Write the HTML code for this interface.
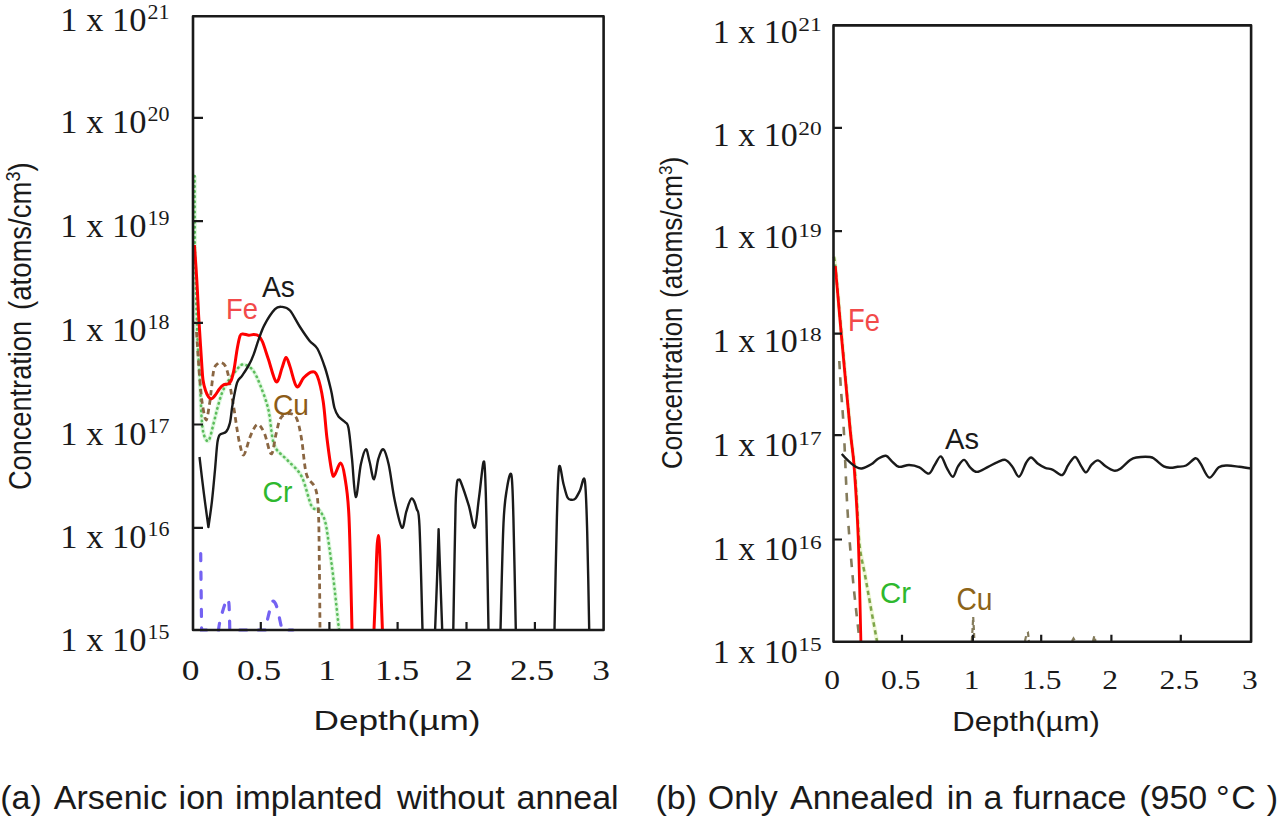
<!DOCTYPE html><html><head><meta charset="utf-8"><style>html,body{margin:0;padding:0;background:#fff;}svg{display:block;}</style></head><body>
<svg width="1280" height="817" viewBox="0 0 1280 817">
<rect width="1280" height="817" fill="#fff"/>
<path d="M200.7 553.5 L201.6 630.0 L218.5 630.0 C218.7 628.8 219.0 625.9 219.6 623.0 C220.2 620.1 221.4 615.8 222.3 612.5 C223.2 609.2 224.4 605.3 225.3 603.0 C226.2 600.7 227.2 598.7 227.8 598.8 C228.4 598.9 228.6 601.0 228.9 603.5 C229.2 606.0 229.2 609.6 229.4 614.0 C229.6 618.4 229.7 627.3 229.8 630.0 L265.5 630.0 C265.7 628.8 266.2 625.4 266.8 622.5 C267.4 619.6 268.4 615.7 269.2 612.5 C270.0 609.3 270.9 605.4 271.6 603.5 C272.3 601.6 272.8 600.8 273.6 601.2 C274.4 601.6 275.6 603.4 276.5 606.0 C277.4 608.6 278.4 613.5 279.2 617.0 C280.0 620.5 280.8 624.8 281.4 627.0 C282.0 629.2 282.7 629.5 283.0 630.0 L293.0 630.0" fill="none" stroke="#7462f2" stroke-width="3.2" stroke-linecap="round" stroke-dasharray="7.2 11.4" />
<path d="M194.6 176.0 L194.8 245.0 C195.0 254.2 195.7 283.8 196.2 300.0 C196.7 316.2 197.0 328.9 197.6 342.0 C198.2 355.1 199.1 365.3 199.8 378.8 C200.5 392.3 201.1 413.2 202.0 423.0 C202.9 432.8 203.8 434.8 205.0 437.6 C206.2 440.4 207.6 442.4 209.0 440.0 C210.4 437.6 212.3 428.3 213.7 423.0 C215.1 417.7 216.1 413.1 217.4 408.2 C218.8 403.3 220.1 397.9 221.8 393.5 C223.5 389.1 225.2 385.7 227.7 381.8 C230.1 377.9 234.0 372.9 236.5 370.0 C239.0 367.1 240.2 364.5 242.9 364.5 C245.6 364.5 249.8 366.4 252.7 370.0 C255.6 373.6 257.9 379.2 260.5 385.8 C263.1 392.4 266.3 400.8 268.3 409.3 C270.3 417.8 271.0 430.4 272.3 437.0 C273.6 443.6 273.6 445.1 276.2 449.0 C278.8 452.9 283.7 456.1 287.9 460.7 C292.1 465.3 297.7 468.9 301.6 476.4 C305.5 483.9 308.7 500.4 311.4 505.8 C314.1 511.2 316.2 507.6 318.0 509.0 C319.8 510.4 320.8 511.7 322.0 514.0 C323.2 516.3 324.3 517.8 325.5 523.0 C326.7 528.2 327.8 536.3 329.0 545.0 C330.2 553.7 331.3 560.9 333.0 575.0 C334.7 589.1 338.0 620.7 339.0 629.8" fill="none" stroke="#dcf7dc" stroke-width="4.2" />
<path d="M194.6 176.0 L194.8 245.0 C195.0 254.2 195.7 283.8 196.2 300.0 C196.7 316.2 197.0 328.9 197.6 342.0 C198.2 355.1 199.1 365.3 199.8 378.8 C200.5 392.3 201.1 413.2 202.0 423.0 C202.9 432.8 203.8 434.8 205.0 437.6 C206.2 440.4 207.6 442.4 209.0 440.0 C210.4 437.6 212.3 428.3 213.7 423.0 C215.1 417.7 216.1 413.1 217.4 408.2 C218.8 403.3 220.1 397.9 221.8 393.5 C223.5 389.1 225.2 385.7 227.7 381.8 C230.1 377.9 234.0 372.9 236.5 370.0 C239.0 367.1 240.2 364.5 242.9 364.5 C245.6 364.5 249.8 366.4 252.7 370.0 C255.6 373.6 257.9 379.2 260.5 385.8 C263.1 392.4 266.3 400.8 268.3 409.3 C270.3 417.8 271.0 430.4 272.3 437.0 C273.6 443.6 273.6 445.1 276.2 449.0 C278.8 452.9 283.7 456.1 287.9 460.7 C292.1 465.3 297.7 468.9 301.6 476.4 C305.5 483.9 308.7 500.4 311.4 505.8 C314.1 511.2 316.2 507.6 318.0 509.0 C319.8 510.4 320.8 511.7 322.0 514.0 C323.2 516.3 324.3 517.8 325.5 523.0 C326.7 528.2 327.8 536.3 329.0 545.0 C330.2 553.7 331.3 560.9 333.0 575.0 C334.7 589.1 338.0 620.7 339.0 629.8" fill="none" stroke="#5cbc5c" stroke-width="2.6" stroke-linecap="round" stroke-dasharray="0.5 4.6" />
<path d="M196.5 332.0 C196.7 334.2 197.1 340.0 197.4 345.0 C197.7 350.0 198.0 355.3 198.5 362.0 C199.0 368.7 199.6 377.8 200.3 385.0 C201.0 392.2 201.5 399.2 202.5 405.0 C203.5 410.8 205.0 420.2 206.2 420.0 C207.4 419.8 208.6 409.2 209.5 404.0 C210.4 398.8 210.7 394.4 211.4 388.6 C212.2 382.8 212.9 373.2 214.0 369.0 C215.1 364.8 217.0 364.3 218.2 363.2 C219.4 362.1 220.2 362.1 221.4 362.6 C222.6 363.1 224.2 363.9 225.3 366.0 C226.4 368.1 227.4 371.4 228.2 374.9 C229.0 378.3 229.5 382.8 230.2 386.7 C230.9 390.6 231.5 394.2 232.2 398.4 C232.9 402.6 233.7 406.9 234.5 412.0 C235.3 417.1 236.1 423.5 237.0 429.0 C237.9 434.5 238.8 440.7 240.0 445.0 C241.2 449.3 242.1 456.4 243.9 454.8 C245.7 453.2 248.4 440.4 250.7 435.3 C253.0 430.2 255.3 424.8 257.6 424.5 C259.9 424.2 262.1 428.4 264.4 433.3 C266.7 438.2 269.3 453.9 271.3 453.9 C273.3 453.9 274.6 439.4 276.2 433.3 C277.8 427.2 278.7 420.9 281.0 417.6 C283.3 414.3 287.3 413.5 289.9 413.7 C292.5 413.9 294.8 414.4 296.7 418.6 C298.6 422.9 300.0 429.9 301.6 439.2 C303.2 448.5 304.2 466.2 306.5 474.4 C308.8 482.5 313.3 482.2 315.3 488.1 C317.3 494.0 317.6 497.7 318.3 509.7 C319.0 521.7 319.0 540.0 319.3 560.0 C319.6 580.0 319.9 618.2 320.0 629.8" fill="none" stroke="#8a6642" stroke-width="2.8" stroke-dasharray="5.5 4" />
<path d="M194.4 245.0 C194.8 250.8 196.1 268.3 196.8 280.0 C197.5 291.7 198.0 304.2 198.6 315.0 C199.2 325.8 200.0 336.7 200.5 345.0 C201.0 353.3 201.4 359.2 201.8 365.0 C202.2 370.8 202.4 375.8 203.0 380.0 C203.6 384.2 204.6 387.7 205.5 390.5 C206.4 393.3 207.5 395.4 208.5 396.8 C209.5 398.2 210.5 399.0 211.6 398.8 C212.7 398.6 213.7 397.1 215.0 395.5 C216.3 393.9 218.0 390.8 219.4 389.0 C220.8 387.2 221.8 385.9 223.3 385.0 C224.8 384.1 226.9 384.6 228.2 383.8 C229.5 383.1 230.2 383.0 231.2 380.5 C232.2 378.0 233.1 374.2 234.1 369.0 C235.1 363.8 236.1 354.9 237.1 349.4 C238.1 343.9 239.0 338.6 240.0 336.0 C241.0 333.4 241.4 334.0 242.9 333.9 C244.4 333.8 247.0 335.1 248.8 335.2 C250.6 335.3 252.1 334.4 253.7 334.5 C255.3 334.6 257.1 334.7 258.6 335.9 C260.1 337.1 260.9 337.9 262.5 341.8 C264.1 345.7 266.1 352.5 268.4 359.2 C270.7 365.9 273.9 380.3 276.2 381.8 C278.5 383.3 280.4 372.1 282.0 368.0 C283.6 363.9 284.7 357.7 286.0 357.4 C287.3 357.1 288.1 361.3 289.9 366.2 C291.7 371.1 294.4 384.8 296.7 386.7 C299.0 388.6 301.2 380.3 303.6 377.9 C306.1 375.4 309.1 372.3 311.4 372.0 C313.7 371.7 315.3 371.1 317.3 376.0 C319.3 380.9 321.6 390.9 323.2 401.4 C324.8 411.9 325.6 427.3 327.1 439.2 C328.6 451.1 330.7 466.6 332.0 472.5 C333.3 478.4 333.5 476.0 334.9 474.4 C336.3 472.8 338.9 462.7 340.5 463.0 C342.1 463.3 343.3 467.2 344.7 476.3 C346.1 485.4 347.8 491.8 349.0 517.4 C350.2 543.0 351.5 611.1 352.0 629.8" fill="none" stroke="#ff0000" stroke-width="3" stroke-linejoin="round"/>
<path d="M374.0 629.8 C374.3 623.2 375.1 603.3 375.6 590.0 C376.1 576.7 376.4 559.1 376.9 550.0 C377.3 540.9 377.8 535.5 378.3 535.5 C378.8 535.5 379.2 540.9 379.7 550.0 C380.1 559.1 380.6 576.7 381.0 590.0 C381.4 603.3 382.2 623.2 382.4 629.8" fill="none" stroke="#ff0000" stroke-width="3" stroke-linejoin="round"/>
<path d="M199.5 457.0 C200.2 463.1 202.4 482.0 203.9 493.7 C205.4 505.4 207.7 521.5 208.4 527.1 C209.0 522.9 210.8 511.2 211.9 501.6 C213.0 492.1 214.1 479.6 215.0 469.8 C215.9 460.0 216.6 448.5 217.4 442.7 C218.2 436.9 218.3 436.6 219.8 434.8 C221.3 433.0 224.5 433.6 226.2 431.6 C227.9 429.6 228.8 427.4 229.9 423.0 C231.0 418.6 231.3 411.7 232.5 405.0 C233.7 398.3 235.5 387.6 237.1 382.7 C238.7 377.8 240.1 378.8 242.0 375.9 C243.9 373.0 246.9 368.7 248.8 365.1 C250.8 361.5 252.1 358.6 253.7 354.3 C255.3 350.1 256.8 344.5 258.6 339.6 C260.4 334.7 261.8 330.0 264.5 324.9 C267.2 319.8 272.1 312.2 275.0 309.2 C277.9 306.2 279.5 306.7 282.0 306.9 C284.5 307.1 287.1 307.2 290.0 310.5 C292.9 313.8 296.4 321.5 299.7 326.5 C302.9 331.5 306.6 337.0 309.5 340.7 C312.4 344.4 314.7 343.9 317.3 348.5 C319.9 353.1 322.8 361.1 325.1 368.0 C327.4 374.9 329.4 383.3 331.0 390.0 C332.6 396.7 333.2 403.6 334.5 408.0 C335.8 412.4 336.8 414.2 338.5 416.5 C340.2 418.8 343.3 420.1 345.0 422.0 C346.7 423.9 347.3 421.9 348.5 428.0 C349.7 434.1 350.8 447.2 352.0 458.7 C353.2 470.2 354.3 495.9 355.8 496.9 C357.3 497.9 359.1 472.5 360.8 464.6 C362.5 456.7 364.3 449.8 365.8 449.3 C367.3 448.8 368.2 456.7 369.6 461.7 C371.0 466.7 372.5 479.8 374.0 479.3 C375.5 478.8 376.8 463.7 378.4 458.7 C380.0 453.7 381.7 448.3 383.4 449.3 C385.1 450.3 386.8 456.2 388.7 464.6 C390.6 473.0 392.4 489.3 394.6 499.8 C396.8 510.3 399.9 525.7 401.9 527.7 C403.8 529.7 404.7 516.5 406.3 511.6 C407.9 506.7 409.9 498.9 411.6 498.4 C413.3 497.9 415.3 504.0 416.6 508.6 C417.9 513.2 418.5 506.0 419.5 526.2 C420.5 546.4 422.0 612.5 422.5 629.8" fill="none" stroke="#1a1a1a" stroke-width="2.4" stroke-linejoin="round"/>
<path d="M435.1 629.8 C435.4 621.5 436.4 596.8 437.0 580.0 C437.6 563.2 438.3 537.7 438.6 529.2 C438.9 537.7 439.8 563.2 440.4 580.0 C441.0 596.8 441.9 621.5 442.2 629.8" fill="none" stroke="#1a1a1a" stroke-width="2.4" stroke-linejoin="round"/>
<path d="M453.3 629.8 C453.5 618.2 454.1 580.8 454.5 560.0 C454.9 539.2 455.2 517.8 455.6 505.0 C456.0 492.2 456.5 487.2 457.0 483.0 C457.5 478.8 458.1 479.9 458.8 479.8 C459.5 479.7 459.3 478.2 461.0 482.5 C462.7 486.8 466.5 498.2 468.8 505.7 C471.1 513.2 473.0 529.2 474.7 527.7 C476.4 526.2 477.5 507.9 479.1 496.9 C480.7 485.9 482.9 458.3 484.1 461.7 C485.3 465.1 485.7 489.4 486.4 517.4 C487.1 545.4 488.1 611.1 488.5 629.8" fill="none" stroke="#1a1a1a" stroke-width="2.4" stroke-linejoin="round"/>
<path d="M500.5 629.8 C501.0 612.0 502.4 546.9 503.5 523.3 C504.6 499.7 505.7 496.2 507.0 488.1 C508.3 480.0 510.3 470.0 511.4 474.9 C512.5 479.8 512.7 491.6 513.4 517.4 C514.1 543.2 515.4 611.1 515.8 629.8" fill="none" stroke="#1a1a1a" stroke-width="2.4" stroke-linejoin="round"/>
<path d="M554.5 629.8 C554.9 611.1 556.1 544.5 556.9 517.4 C557.7 490.3 558.0 472.6 559.1 467.0 C560.2 461.4 562.1 478.9 563.5 484.0 C564.9 489.1 566.2 494.9 567.5 497.5 C568.8 500.1 570.2 499.6 571.5 499.8 C572.8 500.0 574.1 500.1 575.5 498.5 C576.9 496.9 578.5 493.5 580.0 490.5 C581.5 487.5 583.6 473.6 584.8 480.5 C586.0 487.4 586.5 507.2 587.2 532.1 C587.9 557.0 588.9 613.5 589.2 629.8" fill="none" stroke="#1a1a1a" stroke-width="2.4" stroke-linejoin="round"/>
<path d="M193.0 16.3 H603.6 V630.0 H193.0 Z" fill="none" stroke="#1a1a1a" stroke-width="2.6" stroke-linejoin="round"/>
<path d="M193.0 117.8 h10 M193.0 221.1 h10 M193.0 322.9 h10 M193.0 424.5 h10 M193.0 527.8 h10 M260.8 630.0 v-8 M329.4 630.0 v-8 M397.6 630.0 v-8 M466.5 630.0 v-8 M534.9 630.0 v-8" stroke="#1a1a1a" stroke-width="2.2" fill="none"/>
<text x="60.3" y="30.5" font-family="Liberation Serif, serif" font-size="34.5" fill="#1a1a1a">1 x 10</text>
<text x="147.6" y="18.9" font-family="Liberation Serif, serif" font-size="22" fill="#1a1a1a">21</text>
<text x="60.3" y="132.7" font-family="Liberation Serif, serif" font-size="34.5" fill="#1a1a1a">1 x 10</text>
<text x="147.6" y="121.1" font-family="Liberation Serif, serif" font-size="22" fill="#1a1a1a">20</text>
<text x="60.3" y="236.5" font-family="Liberation Serif, serif" font-size="34.5" fill="#1a1a1a">1 x 10</text>
<text x="147.6" y="224.9" font-family="Liberation Serif, serif" font-size="22" fill="#1a1a1a">19</text>
<text x="60.3" y="340.7" font-family="Liberation Serif, serif" font-size="34.5" fill="#1a1a1a">1 x 10</text>
<text x="147.6" y="329.1" font-family="Liberation Serif, serif" font-size="22" fill="#1a1a1a">18</text>
<text x="60.3" y="444.9" font-family="Liberation Serif, serif" font-size="34.5" fill="#1a1a1a">1 x 10</text>
<text x="147.6" y="433.3" font-family="Liberation Serif, serif" font-size="22" fill="#1a1a1a">17</text>
<text x="60.3" y="547.6" font-family="Liberation Serif, serif" font-size="34.5" fill="#1a1a1a">1 x 10</text>
<text x="147.6" y="536.0" font-family="Liberation Serif, serif" font-size="22" fill="#1a1a1a">16</text>
<text x="60.3" y="650.8" font-family="Liberation Serif, serif" font-size="34.5" fill="#1a1a1a">1 x 10</text>
<text x="147.6" y="639.2" font-family="Liberation Serif, serif" font-size="22" fill="#1a1a1a">15</text>
<text transform="translate(190.6 680) scale(1.22 1)" font-family="Liberation Serif, serif" font-size="29" fill="#1a1a1a" text-anchor="middle">0</text>
<text transform="translate(259.0 680) scale(1.22 1)" font-family="Liberation Serif, serif" font-size="29" fill="#1a1a1a" text-anchor="middle">0.5</text>
<text transform="translate(327.0 680) scale(1.22 1)" font-family="Liberation Serif, serif" font-size="29" fill="#1a1a1a" text-anchor="middle">1</text>
<text transform="translate(397.2 680) scale(1.22 1)" font-family="Liberation Serif, serif" font-size="29" fill="#1a1a1a" text-anchor="middle">1.5</text>
<text transform="translate(463.8 680) scale(1.22 1)" font-family="Liberation Serif, serif" font-size="29" fill="#1a1a1a" text-anchor="middle">2</text>
<text transform="translate(532.0 680) scale(1.22 1)" font-family="Liberation Serif, serif" font-size="29" fill="#1a1a1a" text-anchor="middle">2.5</text>
<text transform="translate(601.2 680) scale(1.22 1)" font-family="Liberation Serif, serif" font-size="29" fill="#1a1a1a" text-anchor="middle">3</text>
<text x="313.5" y="730.4" font-family="Liberation Sans, sans-serif" font-size="28" fill="#1a1a1a" textLength="167" lengthAdjust="spacingAndGlyphs">Depth(µm)</text>
<g transform="translate(31.3 488.5) rotate(-90)" font-family="Liberation Sans, sans-serif" fill="#1a1a1a"><text x="-1.5" y="0" font-size="32" textLength="169" lengthAdjust="spacingAndGlyphs">Concentration</text><text x="178.6" y="0" font-size="32" textLength="147.5" lengthAdjust="spacingAndGlyphs">(atoms/cm<tspan font-size="21" dy="-11">3</tspan><tspan dy="11">)</tspan></text></g>
<text x="226" y="318.7" font-family="Liberation Sans, sans-serif" font-size="29" fill="#f24a4a" textLength="32" lengthAdjust="spacingAndGlyphs">Fe</text>
<text x="262" y="297" font-family="Liberation Sans, sans-serif" font-size="29" fill="#1a1a1a" textLength="33" lengthAdjust="spacingAndGlyphs">As</text>
<text x="273" y="415.1" font-family="Liberation Sans, sans-serif" font-size="29" fill="#8d5c17" textLength="36" lengthAdjust="spacingAndGlyphs">Cu</text>
<text x="262.5" y="501.8" font-family="Liberation Sans, sans-serif" font-size="29" fill="#2eb82e" textLength="30" lengthAdjust="spacingAndGlyphs">Cr</text>
<path d="M833.9 256.7 C834.2 258.6 834.2 255.3 835.5 268.0 C836.8 280.7 838.9 306.0 841.4 333.0 C843.9 360.0 848.1 407.7 850.3 430.0 C852.5 452.3 853.4 455.3 854.5 467.0 C855.6 478.7 855.9 486.9 856.8 500.0 C857.6 513.1 858.2 533.1 859.6 545.6 C861.0 558.1 863.2 565.1 865.0 575.0 C866.8 584.9 868.3 593.6 870.3 604.7 C872.3 615.8 875.9 635.3 877.0 641.4" fill="none" stroke="#eef7d6" stroke-width="4.2" />
<path d="M833.9 256.7 C834.2 258.6 834.2 255.3 835.5 268.0 C836.8 280.7 838.9 306.0 841.4 333.0 C843.9 360.0 848.1 407.7 850.3 430.0 C852.5 452.3 853.4 455.3 854.5 467.0 C855.6 478.7 855.9 486.9 856.8 500.0 C857.6 513.1 858.2 533.1 859.6 545.6 C861.0 558.1 863.2 565.1 865.0 575.0 C866.8 584.9 868.3 593.6 870.3 604.7 C872.3 615.8 875.9 635.3 877.0 641.4" fill="none" stroke="#7da548" stroke-width="2.5" stroke-dasharray="4.5 3.5" />
<path d="M839.3 361.0 C839.6 365.8 840.2 378.5 841.0 390.0 C841.8 401.5 842.7 410.0 843.8 430.0 C844.9 450.0 846.0 485.3 847.5 510.0 C849.0 534.7 850.8 556.1 852.8 578.0 C854.8 599.9 858.5 630.8 859.6 641.4" fill="none" stroke="#847b5b" stroke-width="2.6" stroke-dasharray="8.5 8" />
<path d="M971.8 641 L972.6 628 L973.2 617 L973.8 628 L974.4 641 M1025 641 L1026.5 634 L1028 633 L1029 641 M1072 641 L1073.5 638.5 L1075 641 M1093 641 L1094.3 636 L1095.5 641" fill="none" stroke="#847b5b" stroke-width="2.2" stroke-dasharray="5 3"/>
<path d="M835.3 266.0 C836.3 277.2 838.7 306.0 841.2 333.3 C843.7 360.6 848.0 407.6 850.2 430.0 C852.4 452.4 852.9 449.7 854.2 467.6 C855.5 485.5 857.1 508.5 858.2 537.5 C859.3 566.5 860.5 624.1 860.9 641.4" fill="none" stroke="#ff0000" stroke-width="2.8" />
<path d="M841.7 454.0 C842.9 455.2 846.5 459.2 848.9 461.3 C851.2 463.4 853.6 465.6 855.8 466.8 C857.9 468.0 859.2 468.9 861.8 468.5 C864.4 468.1 868.6 465.9 871.3 464.3 C874.0 462.7 875.7 460.1 878.1 458.7 C880.5 457.3 883.6 455.4 885.9 455.8 C888.2 456.2 889.8 459.5 891.9 461.3 C894.0 463.1 895.9 466.2 898.8 466.8 C901.7 467.4 905.7 464.9 909.1 465.0 C912.5 465.1 916.1 465.9 919.4 467.3 C922.7 468.7 926.2 474.0 928.8 473.6 C931.4 473.2 932.8 467.6 934.8 464.7 C936.8 461.8 938.9 455.8 940.9 456.4 C942.9 457.0 944.9 464.7 946.9 468.1 C948.9 471.5 951.0 477.0 952.9 476.7 C954.8 476.4 956.1 469.2 958.0 466.4 C959.9 463.6 962.1 459.8 964.1 459.9 C966.1 460.0 968.0 465.3 970.1 467.3 C972.2 469.3 974.0 472.0 977.0 471.9 C980.0 471.8 984.7 468.4 988.1 466.8 C991.5 465.2 994.7 463.2 997.6 462.1 C1000.5 461.0 1002.9 459.2 1005.3 459.9 C1007.7 460.6 1009.9 463.6 1012.2 466.4 C1014.5 469.2 1016.8 477.3 1019.1 476.7 C1021.4 476.1 1024.0 466.2 1026.0 463.0 C1028.0 459.8 1029.1 457.4 1031.1 457.5 C1033.1 457.6 1035.7 462.1 1038.0 463.8 C1040.3 465.5 1042.7 466.8 1045.2 467.8 C1047.7 468.8 1050.1 468.6 1052.9 469.8 C1055.8 471.0 1059.7 475.9 1062.3 475.0 C1064.9 474.1 1066.2 467.7 1068.4 464.7 C1070.6 461.7 1073.1 456.7 1075.2 457.0 C1077.3 457.3 1079.5 463.8 1081.3 466.4 C1083.1 469.0 1084.4 472.7 1086.1 472.4 C1087.8 472.1 1089.6 466.7 1091.6 464.7 C1093.6 462.7 1095.8 460.2 1098.1 460.4 C1100.4 460.6 1102.7 464.4 1105.3 466.1 C1107.9 467.8 1111.5 470.2 1113.9 470.7 C1116.3 471.2 1117.2 470.8 1119.9 469.0 C1122.6 467.2 1127.5 461.8 1130.2 459.9 C1132.9 458.0 1133.0 458.0 1136.3 457.5 C1139.6 457.0 1146.8 456.7 1150.0 457.0 C1153.2 457.3 1152.9 457.9 1155.2 459.5 C1157.5 461.1 1161.2 465.0 1163.8 466.4 C1166.4 467.8 1168.3 467.7 1170.6 467.8 C1172.9 467.9 1174.9 467.2 1177.5 466.8 C1180.1 466.4 1183.1 466.9 1186.1 465.5 C1189.1 464.1 1193.2 458.5 1195.6 458.2 C1198.0 457.9 1198.4 460.6 1200.7 463.8 C1203.0 467.0 1206.3 477.0 1209.3 477.6 C1212.3 478.2 1215.8 469.3 1218.8 467.3 C1221.8 465.3 1223.9 465.6 1227.3 465.5 C1230.7 465.4 1235.4 466.3 1239.4 466.8 C1243.4 467.3 1249.4 468.2 1251.4 468.5" fill="none" stroke="#1a1a1a" stroke-width="2.4" />
<path d="M833.5 25.4 H1251.1 V641.8 H833.5 Z" fill="none" stroke="#1a1a1a" stroke-width="2.6" stroke-linejoin="round"/>
<path d="M833.5 127.8 h8.5 M833.5 231.2 h8.5 M833.5 333.6 h8.5 M833.5 435.2 h8.5 M833.5 539.5 h8.5 M902.0 641.8 v-7 M972.9 641.8 v-7 M1041.2 641.8 v-7 M1111.4 641.8 v-7 M1180.8 641.8 v-7" stroke="#1a1a1a" stroke-width="2.2" fill="none"/>
<text x="712.8" y="42.7" font-family="Liberation Serif, serif" font-size="34" fill="#1a1a1a">1 x 10</text>
<text transform="translate(798.2 31.3) scale(1.2 1)" font-family="Liberation Serif, serif" font-size="19.5" fill="#1a1a1a">21</text>
<text x="712.8" y="145.9" font-family="Liberation Serif, serif" font-size="34" fill="#1a1a1a">1 x 10</text>
<text transform="translate(798.2 134.5) scale(1.2 1)" font-family="Liberation Serif, serif" font-size="19.5" fill="#1a1a1a">20</text>
<text x="712.8" y="248.0" font-family="Liberation Serif, serif" font-size="34" fill="#1a1a1a">1 x 10</text>
<text transform="translate(798.2 236.6) scale(1.2 1)" font-family="Liberation Serif, serif" font-size="19.5" fill="#1a1a1a">19</text>
<text x="712.8" y="352.3" font-family="Liberation Serif, serif" font-size="34" fill="#1a1a1a">1 x 10</text>
<text transform="translate(798.2 340.9) scale(1.2 1)" font-family="Liberation Serif, serif" font-size="19.5" fill="#1a1a1a">18</text>
<text x="712.8" y="456.4" font-family="Liberation Serif, serif" font-size="34" fill="#1a1a1a">1 x 10</text>
<text transform="translate(798.2 445.0) scale(1.2 1)" font-family="Liberation Serif, serif" font-size="19.5" fill="#1a1a1a">17</text>
<text x="712.8" y="560.4" font-family="Liberation Serif, serif" font-size="34" fill="#1a1a1a">1 x 10</text>
<text transform="translate(798.2 549.0) scale(1.2 1)" font-family="Liberation Serif, serif" font-size="19.5" fill="#1a1a1a">16</text>
<text x="712.8" y="662.8" font-family="Liberation Serif, serif" font-size="34" fill="#1a1a1a">1 x 10</text>
<text transform="translate(798.2 651.4) scale(1.2 1)" font-family="Liberation Serif, serif" font-size="19.5" fill="#1a1a1a">15</text>
<text transform="translate(832.0 688.7) scale(1.15 1)" font-family="Liberation Serif, serif" font-size="27.4" fill="#1a1a1a" text-anchor="middle">0</text>
<text transform="translate(900.8 688.7) scale(1.15 1)" font-family="Liberation Serif, serif" font-size="27.4" fill="#1a1a1a" text-anchor="middle">0.5</text>
<text transform="translate(971.5 688.7) scale(1.15 1)" font-family="Liberation Serif, serif" font-size="27.4" fill="#1a1a1a" text-anchor="middle">1</text>
<text transform="translate(1041.7 688.7) scale(1.15 1)" font-family="Liberation Serif, serif" font-size="27.4" fill="#1a1a1a" text-anchor="middle">1.5</text>
<text transform="translate(1110.0 688.7) scale(1.15 1)" font-family="Liberation Serif, serif" font-size="27.4" fill="#1a1a1a" text-anchor="middle">2</text>
<text transform="translate(1179.2 688.7) scale(1.15 1)" font-family="Liberation Serif, serif" font-size="27.4" fill="#1a1a1a" text-anchor="middle">2.5</text>
<text transform="translate(1249.8 688.7) scale(1.15 1)" font-family="Liberation Serif, serif" font-size="27.4" fill="#1a1a1a" text-anchor="middle">3</text>
<text x="952.3" y="730.6" font-family="Liberation Sans, sans-serif" font-size="28" fill="#1a1a1a" textLength="147.5" lengthAdjust="spacingAndGlyphs">Depth(µm)</text>
<g transform="translate(681.8 467.5) rotate(-90)" font-family="Liberation Sans, sans-serif" fill="#1a1a1a"><text x="-1.5" y="0" font-size="29" textLength="161.5" lengthAdjust="spacingAndGlyphs">Concentration</text><text x="169.5" y="0" font-size="29" textLength="141.4" lengthAdjust="spacingAndGlyphs">(atoms/cm<tspan font-size="19" dy="-10">3</tspan><tspan dy="10">)</tspan></text></g>
<text x="848" y="330.6" font-family="Liberation Sans, sans-serif" font-size="32" fill="#f24a4a" textLength="32" lengthAdjust="spacingAndGlyphs">Fe</text>
<text x="945" y="449.2" font-family="Liberation Sans, sans-serif" font-size="29" fill="#1a1a1a" textLength="34" lengthAdjust="spacingAndGlyphs">As</text>
<text x="880" y="603.1" font-family="Liberation Sans, sans-serif" font-size="30" fill="#2eb82e" textLength="31" lengthAdjust="spacingAndGlyphs">Cr</text>
<text x="956.5" y="609.7" font-family="Liberation Sans, sans-serif" font-size="31" fill="#8d6418" textLength="36" lengthAdjust="spacingAndGlyphs">Cu</text>
<g font-family="Liberation Sans, sans-serif" font-size="34" fill="#1a1a1a"><text x="0.3" y="809">(a)</text><text x="53.8" y="809">Arsenic</text><text x="178.6" y="809">ion</text><text x="234.9" y="809">implanted</text><text x="396.9" y="809">without</text><text x="516.5" y="809">anneal</text><text x="655.5" y="809">(b)</text><text x="707.8" y="809">Only</text><text x="790.0" y="809">Annealed</text><text x="946.8" y="809">in</text><text x="983.4" y="809">a</text><text x="1013.1" y="809">furnace</text><text x="1139.2" y="809">(950</text><text x="1216.1" y="809">°</text><text x="1231.2" y="809">C</text><text x="1266.8" y="809">)</text></g>
</svg></body></html>
